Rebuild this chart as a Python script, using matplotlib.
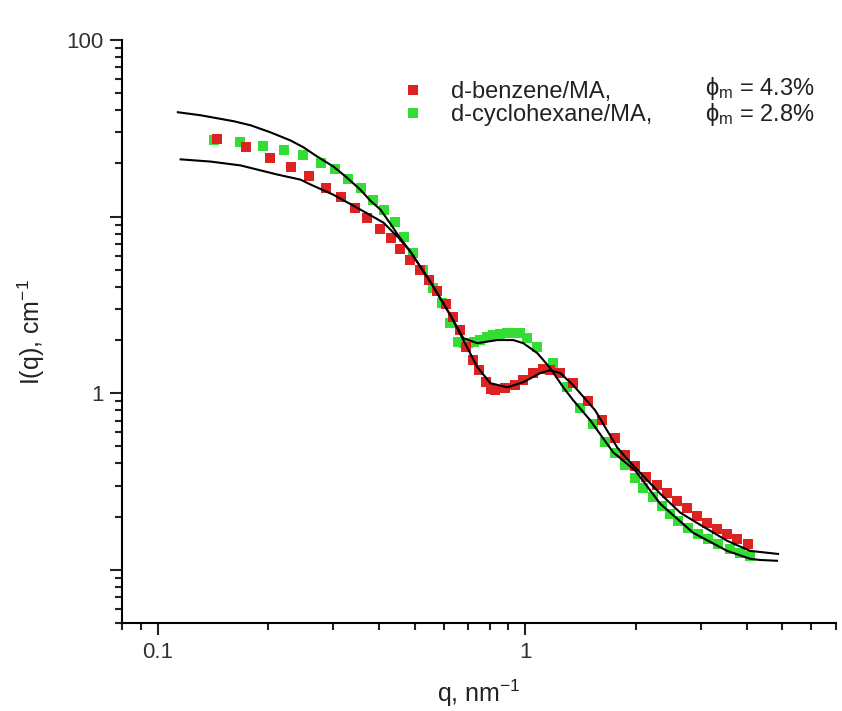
import matplotlib
matplotlib.use("Agg")
import matplotlib.pyplot as plt
from matplotlib.ticker import FixedLocator, FixedFormatter, LogLocator, NullFormatter
from matplotlib.lines import Line2D

plt.rcParams['font.family'] = ['Liberation Sans', 'DejaVu Sans']
plt.rcParams['mathtext.fontset'] = 'custom'
plt.rcParams['mathtext.rm'] = 'Liberation Sans'
plt.rcParams['mathtext.it'] = 'Liberation Sans:italic'
plt.rcParams['mathtext.fallback'] = 'stixsans'

# ---- data: d-benzene/MA (red squares)
q_benz = [0.1446, 0.1734, 0.2015, 0.2312, 0.2588, 0.2878, 0.3162, 0.3452, 0.372, 0.4036,
          0.4324, 0.4574, 0.487, 0.5185, 0.5483, 0.5765, 0.61, 0.6372, 0.6658, 0.6913,
          0.7225, 0.7499, 0.7835, 0.806, 0.8291, 0.8824, 0.9394, 0.9876, 1.051, 1.119,
          1.169, 1.245, 1.35, 1.483, 1.619, 1.756, 1.869, 1.99, 2.132, 2.284,
          2.432, 2.588, 2.755, 2.934, 3.123, 3.325, 3.54, 3.768, 4.036]
I_benz = [27.4, 24.7, 21.6, 19.2, 16.9, 14.6, 13.0, 11.25, 9.87, 8.55,
          7.6, 6.58, 5.7, 5.0, 4.39, 3.8, 3.2, 2.7, 2.28, 1.825,
          1.54, 1.35, 1.155, 1.06, 1.04, 1.07, 1.11, 1.185, 1.3, 1.37,
          1.35, 1.3, 1.14, 0.901, 0.702, 0.555, 0.444, 0.385, 0.3376, 0.304,
          0.274, 0.2466, 0.225, 0.2027, 0.185, 0.171, 0.16, 0.15, 0.1405]

# ---- data: d-cyclohexane/MA (green squares)
q_cyc = [0.142, 0.168, 0.194, 0.22, 0.2492, 0.279, 0.3045, 0.3304, 0.3583, 0.3863,
         0.4138, 0.4433, 0.469, 0.4963, 0.528, 0.5623, 0.5949, 0.6254, 0.6574, 0.68,
         0.7001, 0.725, 0.7545, 0.785, 0.8185, 0.855, 0.8935, 0.93, 0.9692, 1.0126,
         1.078, 1.191, 1.301, 1.411, 1.53, 1.65, 1.756, 1.869, 1.99, 2.093,
         2.228, 2.357, 2.477, 2.605, 2.773, 2.952, 3.143, 3.346, 3.606, 3.839, 4.087]
I_cyc = [27.0, 26.3, 25.0, 23.7, 22.2, 20.0, 18.7, 16.4, 14.6, 12.5,
         10.96, 9.37, 7.7, 6.25, 5.0, 3.95, 3.25, 2.5, 1.95, 1.92,
         1.92, 1.96, 2.0, 2.07, 2.135, 2.17, 2.19, 2.2, 2.19, 2.05,
         1.825, 1.48, 1.08, 0.822, 0.667, 0.527, 0.456, 0.39, 0.333, 0.292,
         0.26, 0.231, 0.208, 0.19, 0.173, 0.16, 0.15, 0.1405, 0.1316, 0.125, 0.12]

# ---- model curves (black lines)
q_fit_benz = [0.1155, 0.1393, 0.168, 0.2119, 0.2446, 0.2605, 0.3007, 0.3243, 0.356, 0.4112,
              0.4518, 0.487, 0.5518, 0.6254, 0.6784, 0.7405, 0.8033, 0.8935, 0.9876, 1.098,
              1.169, 1.245, 1.35, 1.549, 1.778, 1.929, 2.327, 2.637, 2.861, 3.54,
              4.087, 4.869]
I_fit_benz = [21.1, 20.5, 19.5, 17.3, 16.2, 15.2, 13.3, 12.2, 10.96, 9.25,
              7.6, 6.33, 4.27, 2.77, 2.0, 1.405, 1.14, 1.08, 1.155, 1.3,
              1.35, 1.3, 1.11, 0.8, 0.493, 0.4055, 0.27, 0.211, 0.19, 0.146,
              0.128, 0.123]
q_fit_cyc = [0.1135, 0.1308, 0.1609, 0.179, 0.2028, 0.2298, 0.2492, 0.2688, 0.3007, 0.3243,
             0.356, 0.3791, 0.4036, 0.4296, 0.4518, 0.487, 0.5518, 0.6254, 0.6784, 0.7405,
             0.839, 0.9277, 0.9876, 1.078, 1.169, 1.268, 1.35, 1.502, 1.735, 1.99,
             2.327, 2.861, 3.54, 4.087, 4.35, 4.839]
I_fit_cyc = [39.0, 37.5, 34.7, 32.9, 30.0, 27.0, 24.7, 22.2, 19.2, 16.9,
             14.2, 12.3, 10.96, 9.12, 7.8, 6.33, 4.27, 2.77, 2.05, 1.92,
             2.0, 2.0, 1.92, 1.687, 1.387, 1.08, 0.913, 0.702, 0.462, 0.365,
             0.237, 0.162, 0.128, 0.1155, 0.1137, 0.1125]

labels = ['d-benzene/MA,', 'd-cyclohexane/MA,']
phi_labels = [r'$\mathregular{\phi_m}$ = 4.3%', r'$\mathregular{\phi_m}$ = 2.8%']
xticks = [0.1, 1]
xtick_labels = ['0.1', '1']
yticks = [0.1, 1, 10, 100]
ytick_labels = ['', '1', '', '100']

red = '#dd2222'
green = '#33dd33'

fig = plt.figure(figsize=(8.42, 7.11), dpi=100)
ax = fig.add_axes([0.1449, 0.1238, 0.8480, 0.8199])

ax.plot(q_cyc, I_cyc, 's', color=green, ms=7.5, mew=0, zorder=2)
ax.plot(q_benz, I_benz, 's', color=red, ms=7.5, mew=0, zorder=3)
ax.plot(q_fit_benz, I_fit_benz, '-', color='black', lw=1.5, zorder=4, solid_joinstyle='round')
ax.plot(q_fit_cyc, I_fit_cyc, '-', color='black', lw=1.5, zorder=4, solid_joinstyle='round')

ax.set_xscale('log')
ax.set_yscale('log')
ax.set_xlim(0.08, 7)
ax.set_ylim(0.05, 100)

for s in ['top', 'right']:
    ax.spines[s].set_visible(False)
for s in ['left', 'bottom']:
    ax.spines[s].set_linewidth(1.5)

ax.xaxis.set_major_locator(FixedLocator(xticks))
ax.xaxis.set_major_formatter(FixedFormatter(xtick_labels))
ax.xaxis.set_minor_locator(LogLocator(base=10, subs=[2, 3, 4, 5, 6, 7, 8, 9]))
ax.xaxis.set_minor_formatter(NullFormatter())
ax.yaxis.set_major_locator(FixedLocator(yticks))
ax.yaxis.set_major_formatter(FixedFormatter(ytick_labels))
ax.yaxis.set_minor_locator(LogLocator(base=10, subs=[2, 3, 4, 5, 6, 7, 8, 9]))
ax.yaxis.set_minor_formatter(NullFormatter())

ax.tick_params(which='major', direction='out', length=8.5, width=1.5, labelsize=16, pad=5,
               color='#222222', labelcolor='#333333')
ax.tick_params(which='minor', direction='out', length=5, width=1.5, color='#222222')

ax.set_xlabel(r'q, nm$\mathregular{^{-1}}$', fontsize=18, labelpad=11, color='#222222')
ax.set_ylabel(r'I(q), cm$\mathregular{^{-1}}$', fontsize=18, labelpad=14, color='#222222')

handles = [Line2D([], [], ls='none', marker='s', color=red, ms=7.5, mew=0),
           Line2D([], [], ls='none', marker='s', color=green, ms=7.5, mew=0)]
leg = ax.legend(handles, labels, loc='upper left', bbox_to_anchor=(0.391, 0.929),
                frameon=False, fontsize=17, handlelength=1.0, handletextpad=1.1,
                labelspacing=0.03, borderpad=0, borderaxespad=0)
for t in leg.get_texts():
    t.set_color('#222222')
ax.text(0.8165, 0.895, phi_labels[0] + '\n' + phi_labels[1], transform=ax.transAxes,
        fontsize=17, va='center', ha='left', linespacing=0.95, color='#222222')

fig.savefig('out.png', dpi=100, facecolor='white')
